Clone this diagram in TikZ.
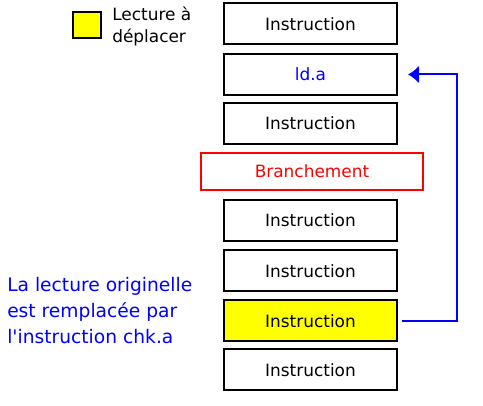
\documentclass[tikz,border=0pt]{standalone}
\usepackage{fontspec}
\setmainfont{DejaVu Sans}[Ligatures=TeXOff]
\usetikzlibrary{arrows.meta}

\begin{document}
\begin{tikzpicture}[x=0.75pt,y=-0.75pt,
  instr/.style={draw=black, line width=1.5pt, minimum width=129.75pt, minimum height=30.75pt, inner sep=0pt, font=\fontsize{12.7}{15}\selectfont},
  branch/.style={draw=red, text=red, line width=2.2pt, minimum width=166.5pt, minimum height=27.75pt, inner sep=0pt, font=\fontsize{12.7}{15}\selectfont}]
\definecolor{jaune}{RGB}{255,255,0}
\definecolor{bleu}{RGB}{0,0,255}
\useasboundingbox (0,0) rectangle (483,406);
%% --- legend ---
\node[draw=black, line width=1.5pt, fill=jaune, minimum width=21pt, minimum height=19.5pt, inner sep=0pt] (leg) at (87,25) {};
\node[anchor=west, align=left, inner sep=0pt, font=\fontsize{12.7}{16.5}\selectfont] (legtxt) at (112,26) {Lecture à\\déplacer};
%% --- instruction stack ---
\node[instr] (i1) at (310.5,24) {Instruction};
\node[instr, text=bleu] (i2) at (310.5,74.5) {ld.a};
\node[instr] (i3) at (310.5,123.5) {Instruction};
\node[branch] (br) at (312,171.5) {Branchement};
\node[instr] (i5) at (310.5,220.5) {Instruction};
\node[instr] (i6) at (310.5,271) {Instruction};
\node[instr, fill=jaune] (i7) at (310.5,321) {Instruction};
\node[instr] (i8) at (310.5,370) {Instruction};
%% --- note ---
\node[anchor=west, align=left, inner sep=0pt, text=bleu, font=\fontsize{14}{19.5}\selectfont] (note) at (7,311) {La lecture originelle\\est remplacée par\\l'instruction chk.a};
%% --- move arrow ---
\draw[bleu, line width=1.5pt, -{Latex[length=8.25pt,width=13.5pt]}, shorten <=3pt, shorten >=7.5pt] (i7.east) -- ++(59,0) |- (i2.east);
\end{tikzpicture}
\end{document}
